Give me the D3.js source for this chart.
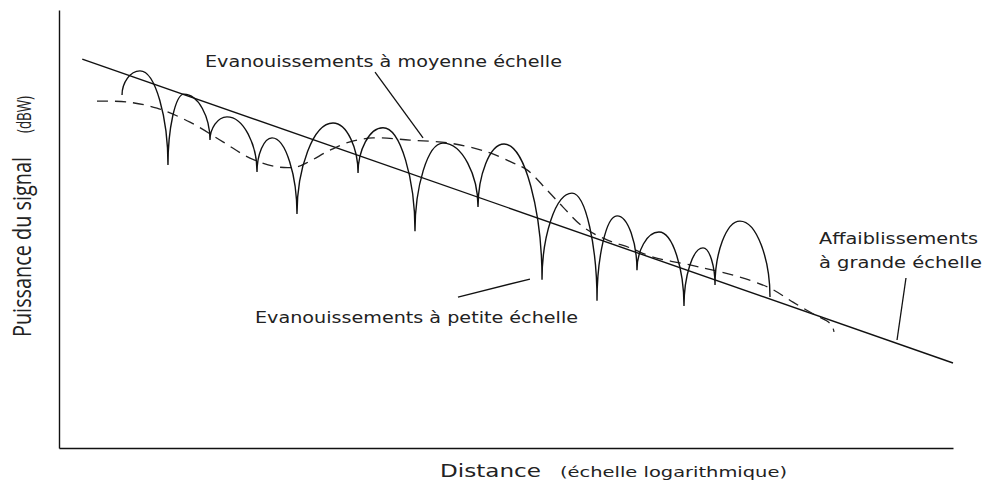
<!DOCTYPE html>
<html>
<head>
<meta charset="utf-8">
<script src="https://cdn.jsdelivr.net/npm/d3@7"></script>
<style>
  body { margin: 0; background: #fff; }
  svg { display: block; }
</style>
</head>
<body>
<svg id="chart" width="985" height="482"></svg>
<script>
// schematic values, x = distance (arbitrary log units), y = power (arbitrary dB units)
const largeScale = [[2.6, 88.8], [100, 19.4]];

const mediumScale = [
  [4.25, 79.2], [7.61, 79.0], [10.96, 77.6], [14.65, 74.4], [18.34, 69.9],
  [21.36, 66.2], [24.38, 64.2], [26.62, 64.2], [28.08, 65.5], [30.31, 68.0],
  [32.55, 69.9], [35.12, 70.8], [39.26, 70.3], [43.74, 69.6], [47.87, 67.6],
  [50.78, 65.1], [52.35, 63.5], [54.59, 58.9], [56.38, 55.0], [58.61, 50.5],
  [61.30, 47.5], [63.87, 45.7], [66.44, 43.6], [70.58, 41.8], [73.15, 40.6],
  [76.17, 39.0], [79.53, 36.5], [82.10, 33.3], [84.56, 30.4], [85.91, 29.0],
  [86.47, 27.9], [86.69, 26.5]
];

// alternating dips / peaks of the fast fading
const smallScale = [
  [7.05, 80.6], [9.06, 86.1], [12.19, 64.6], [13.98, 80.8], [16.89, 70.3],
  [18.79, 75.6], [22.15, 63.0], [23.83, 70.8], [26.62, 53.4], [30.65, 74.2],
  [33.45, 62.8], [36.24, 73.1], [39.82, 49.5], [42.95, 69.6], [46.87, 55.0],
  [49.78, 69.4], [54.03, 38.4], [57.38, 58.2], [60.18, 33.6], [62.42, 53.0],
  [64.65, 40.6], [67.11, 49.3], [69.91, 32.4], [72.04, 45.7], [73.38, 37.2],
  [76.17, 51.8], [79.53, 34.5]
];

const labelMedium = 'Evanouissements à moyenne échelle';
const labelSmall = 'Evanouissements à petite échelle';
const labelLarge = ['Affaiblissements', 'à grande échelle'];
const xTitle = ['Distance', '(échelle logarithmique)'];
const yTitle = ['Puissance du signal', '(dBW)'];

const svg = d3.select('#chart');
const ink = '#111';
const textInk = '#222';

const x = d3.scaleLinear().domain([0, 100]).range([59, 953]);
const y = d3.scaleLinear().domain([0, 100]).range([448, 10]);

// axes without ticks
svg.append('g')
  .attr('transform', 'translate(0,448)')
  .call(d3.axisBottom(x).tickValues([]).tickSizeOuter(0))
  .select('.domain').attr('stroke', ink).attr('stroke-width', 1.4);

svg.append('g')
  .attr('transform', 'translate(59,0)')
  .call(d3.axisLeft(y).tickValues([]).tickSizeOuter(0))
  .select('.domain').attr('stroke', ink).attr('stroke-width', 1.4);

// arch curve: vertical tangent at dips, flat at peaks
function curveArch(context) {
  const kv = 0.5, kh = 0.55;
  let i, x0, y0;
  return {
    areaStart() {}, areaEnd() {},
    lineStart() { i = 0; },
    lineEnd() {},
    point(px, py) {
      if (i === 0) context.moveTo(px, py);
      else if (py < y0) {
        context.bezierCurveTo(x0, y0 + kv * (py - y0), px - kh * (px - x0), py, px, py);
      } else {
        context.bezierCurveTo(x0 + kh * (px - x0), y0, px, py - kv * (py - y0), px, py);
      }
      x0 = px; y0 = py; i++;
    }
  };
}

const line = d3.line().x(d => x(d[0])).y(d => y(d[1]));

svg.append('path')
  .datum(largeScale)
  .attr('d', line)
  .attr('fill', 'none')
  .attr('stroke', ink)
  .attr('stroke-width', 1.4);

svg.append('path')
  .datum(mediumScale)
  .attr('d', line.curve(d3.curveCatmullRom.alpha(0.5)))
  .attr('fill', 'none')
  .attr('stroke', '#222')
  .attr('stroke-width', 1.3)
  .attr('stroke-dasharray', '11,7');

svg.append('path')
  .datum(smallScale)
  .attr('d', line.curve(curveArch))
  .attr('fill', 'none')
  .attr('stroke', ink)
  .attr('stroke-width', 1.4);

// leader lines
const leaders = [
  [[35.35, 85.84], [40.72, 70.78]],
  [[44.63, 34.47], [52.68, 38.58]],
  [[94.74, 38.81], [93.74, 24.66]]
];
svg.selectAll('.leader')
  .data(leaders)
  .join('path')
  .attr('class', 'leader')
  .attr('d', d3.line().x(d => x(d[0])).y(d => y(d[1])))
  .attr('stroke', ink)
  .attr('stroke-width', 1.3)
  .attr('fill', 'none');

function note(txt, px, py, len, size) {
  svg.append('text')
    .attr('x', px).attr('y', py)
    .attr('font-family', 'DejaVu Sans, sans-serif')
    .attr('font-size', size)
    .attr('fill', textInk)
    .attr('textLength', len)
    .attr('lengthAdjust', 'spacingAndGlyphs')
    .text(txt);
}

note(labelMedium, 205, 67, 357, 15.5);
note(labelSmall, 255, 323, 323, 15.5);
note(labelLarge[0], 819, 244, 159, 15.5);
note(labelLarge[1], 819, 268, 163, 15.5);
note(xTitle[0], 440, 477, 101, 18.5);
note(xTitle[1], 560, 477, 227, 14.5);

// y title, condensed
function yNote(txt, py, len, size) {
  svg.append('text')
    .attr('transform', `translate(31,${py}) rotate(-90)`)
    .attr('font-family', 'Open Sans, sans-serif')
    .attr('font-size', size)
    .attr('fill', textInk)
    .attr('textLength', len)
    .attr('lengthAdjust', 'spacingAndGlyphs')
    .text(txt);
}
yNote(yTitle[0], 337, 180, 26);
yNote(yTitle[1], 133, 37, 20);
</script>
</body>
</html>
